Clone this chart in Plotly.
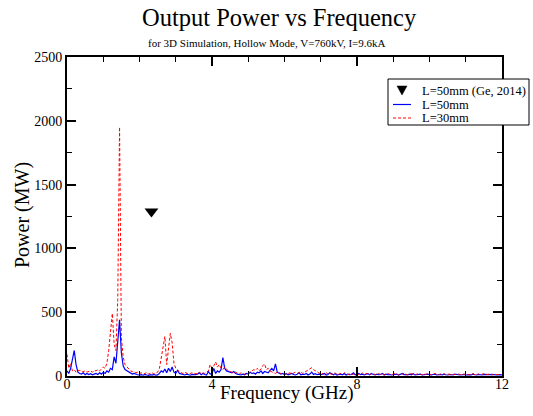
import plotly.graph_objects as go

# Frequency grid (GHz), 0.05 GHz resolution from 0 to 12 GHz
FREQ_STEP = 0.05
freq = [round(FREQ_STEP * i, 2) for i in range(241)]

# L=50mm spectrum (MW), one row per GHz
power_50mm = (
    [40, 20, 60, 120, 200, 90, 30, 20, 15, 25, 10, 20, 12, 18, 10, 15, 20, 12, 25, 15]
    + [30, 20, 40, 30, 60, 50, 150, 100, 250, 440, 180, 80, 50, 40, 30, 20, 15, 20, 12, 10]
    + [8, 10, 6, 12, 8, 5, 10, 7, 12, 6, 9, 20, 40, 30, 55, 25, 60, 35, 70, 30]
    + [20, 45, 20, 15, 10, 8, 15, 10, 6, 12, 8, 10, 15, 25, 10, 20, 12, 8, 35, 15]
    + [20, 60, 20, 40, 30, 50, 145, 60, 40, 35, 30, 25, 35, 20, 15, 10, 8, 15, 10, 20]
    + [15, 30, 20, 25, 15, 30, 25, 40, 20, 35, 30, 25, 45, 60, 40, 95, 30, 20, 15, 20]
    + [12, 18, 10, 15, 20, 12, 8, 14, 25, 10, 15, 12, 20, 8, 15, 30, 12, 18, 10, 14]
    + [10, 15, 20, 8, 12, 25, 15, 10, 18, 8, 12, 15, 10, 20, 8, 14, 10, 12, 25, 10]
    + [15, 20, 10, 14, 8, 12, 18, 10, 20, 12, 8, 15, 10, 12, 20, 8, 14, 10, 12, 8]
    + [12, 10, 15, 8, 14, 20, 10, 12, 8, 15, 10, 18, 8, 12, 10, 15, 8, 12, 10, 14]
    + [10, 8, 12, 15, 8, 10, 12, 8, 15, 10, 8, 12, 10, 8, 14, 10, 12, 8, 10, 12]
    + [8, 12, 10, 8, 14, 10, 8, 12, 10, 8, 12, 10, 8, 10, 12, 8, 10, 8, 12, 10]
    + [8]
)

# L=30mm spectrum (MW), one row per GHz
power_30mm = (
    [170, 60, 100, 40, 50, 30, 40, 45, 30, 35, 40, 30, 35, 40, 30, 45, 40, 50, 40, 60]
    + [70, 60, 100, 200, 350, 490, 250, 200, 600, 1950, 300, 150, 90, 70, 50, 40, 35, 30, 25, 30]
    + [20, 25, 15, 20, 30, 15, 20, 25, 15, 20, 30, 60, 150, 230, 310, 90, 200, 335, 260, 100]
    + [60, 50, 30, 25, 20, 30, 25, 15, 20, 25, 15, 20, 15, 30, 20, 25, 20, 30, 40, 90]
    + [60, 80, 110, 70, 90, 60, 50, 70, 50, 40, 35, 30, 25, 30, 20, 15, 25, 20, 15, 25]
    + [20, 30, 40, 50, 45, 60, 40, 55, 80, 95, 50, 60, 40, 30, 25, 20, 30, 25, 20, 15]
    + [20, 15, 20, 25, 15, 20, 30, 20, 25, 35, 20, 30, 40, 50, 55, 65, 50, 40, 30, 20]
    + [15, 20, 10, 25, 15, 20, 12, 18, 25, 10, 15, 20, 12, 25, 15, 10, 20, 15, 12, 18]
    + [20, 12, 15, 25, 10, 18, 20, 12, 15, 22, 10, 15, 20, 12, 18, 10, 15, 20, 12, 10]
    + [15, 20, 12, 10, 18, 15, 22, 10, 12, 15, 20, 12, 10, 15, 18, 12, 10, 15, 12, 20]
    + [12, 10, 15, 20, 12, 10, 15, 12, 18, 10, 15, 12, 10, 14, 12, 10, 15, 12, 10, 14]
    + [12, 15, 10, 12, 20, 10, 12, 15, 10, 12, 18, 10, 12, 15, 10, 12, 10, 14, 12, 10]
    + [12]
)

# Published reference point (Ge, 2014)
ref_freq = [2.33]
ref_power = [1290]

legend_labels = ["L=50mm (Ge, 2014)", "L=50mm", "L=30mm"]

SERIF = "Liberation Serif, Times New Roman, serif"

# Page geometry (pixels)
W, H = 533, 416
ML, MR, MT, MB = 67, 31, 57, 40
PW, PH = W - ML - MR, H - MT - MB


def px(x):
    """Horizontal page pixel -> paper fraction."""
    return (x - ML) / PW


def py(y):
    """Vertical page pixel (from top) -> paper fraction."""
    return (H - MB - y) / PH


fig = go.Figure()
fig.add_trace(go.Scatter(
    x=ref_freq, y=ref_power, mode="markers", name=legend_labels[0],
    marker=dict(symbol="triangle-down", size=12, color="black"),
    showlegend=False,
))
fig.add_trace(go.Scatter(
    x=freq, y=power_50mm, mode="lines", name=legend_labels[1],
    line=dict(color="blue", width=1.2), showlegend=False,
))
fig.add_trace(go.Scatter(
    x=freq, y=power_30mm, mode="lines", name=legend_labels[2],
    line=dict(color="red", width=1, dash="3px,2px"), showlegend=False,
))

axis_common = dict(
    showline=True, linecolor="black", linewidth=2, mirror="allticks",
    ticks="inside", tickcolor="black", tickwidth=1.5, ticklen=9,
    showgrid=False, zeroline=False, automargin=False,
    tickfont=dict(family=SERIF, size=14, color="black"),
)

fig.update_xaxes(
    range=[0, 12], dtick=4, tick0=0, ticklabelstandoff=-6,
    minor=dict(dtick=1, ticks="inside", ticklen=5, tickcolor="black", tickwidth=1),
    **axis_common,
)
fig.update_yaxes(
    range=[0, 2500], dtick=500, tick0=0,
    minor=dict(dtick=250, ticks="inside", ticklen=5, tickcolor="black", tickwidth=1),
    **axis_common,
)

annotations = [
    dict(text="Output Power vs Frequency", x=px(279.5), y=py(18),
         font=dict(family=SERIF, size=24.5, color="black")),
    dict(text="for 3D Simulation, Hollow Mode, V=760kV, I=9.6kA", x=px(267), y=py(43),
         font=dict(family=SERIF, size=11, color="black")),
    dict(text="Frequency (GHz)", x=px(286), y=py(393),
         font=dict(family=SERIF, size=19, color="black")),
    dict(text="Power (MW)", x=px(22), y=py(215), textangle=-90,
         font=dict(family=SERIF, size=20, color="black")),
]
for a in annotations:
    a.update(xref="paper", yref="paper", xanchor="center", yanchor="middle", showarrow=False)

# Legend entries: label text
legend_rows_y = [90.5, 104.5, 118]
for label, ry in zip(legend_labels, legend_rows_y):
    annotations.append(dict(
        text=label, x=px(420), y=py(ry), xref="paper", yref="paper",
        xanchor="left", yanchor="middle", showarrow=False,
        font=dict(family=SERIF, size=12.5, color="black"),
    ))

tx, ty = 402, legend_rows_y[0]
shapes = [
    # legend frame
    dict(type="rect", xref="paper", yref="paper",
         x0=px(388), x1=px(529), y0=py(79), y1=py(125),
         fillcolor="white", line=dict(color="black", width=1), layer="above"),
    # legend symbol: downward triangle
    dict(type="path", xref="paper", yref="paper",
         path=f"M {px(tx - 5)},{py(ty - 4.5)} L {px(tx + 5)},{py(ty - 4.5)} L {px(tx)},{py(ty + 4.5)} Z",
         fillcolor="black", line=dict(color="black", width=0.5), layer="above"),
    # legend samples: solid blue, dashed red
    dict(type="line", xref="paper", yref="paper",
         x0=px(393), x1=px(411), y0=py(legend_rows_y[1]), y1=py(legend_rows_y[1]),
         line=dict(color="blue", width=1.2), layer="above"),
    dict(type="line", xref="paper", yref="paper",
         x0=px(393), x1=px(411), y0=py(legend_rows_y[2]), y1=py(legend_rows_y[2]),
         line=dict(color="red", width=1, dash="3px,2px"), layer="above"),
]

fig.update_layout(
    width=W, height=H,
    margin=dict(l=ML, r=MR, t=MT, b=MB, autoexpand=False),
    paper_bgcolor="white", plot_bgcolor="white",
    font=dict(family=SERIF, color="black"),
    showlegend=False,
    annotations=annotations,
    shapes=shapes,
)

fig.write_html("out.html")
